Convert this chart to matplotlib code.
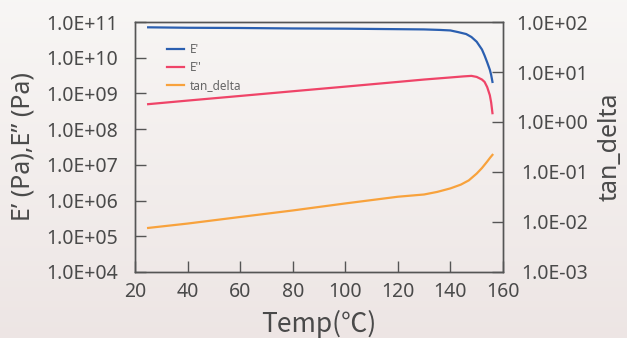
import matplotlib
matplotlib.use("Agg")
import matplotlib.pyplot as plt
from matplotlib.ticker import FuncFormatter, FixedLocator, NullLocator
import numpy as np

plt.rcParams['font.family'] = ['Noto Sans', 'DejaVu Sans']

# Storage modulus E' (Pa) vs temperature
temp_e1 = [25, 40, 60, 80, 100, 120, 130, 136, 140, 143, 146, 148, 150, 152, 153, 154, 155, 155.5, 156]
e_storage = [7.1e10, 6.9e10, 6.8e10, 6.6e10, 6.5e10, 6.3e10, 6.2e10, 6.0e10, 5.8e10, 5.2e10,
             4.6e10, 3.8e10, 2.8e10, 1.7e10, 1.15e10, 7.4e9, 4.6e9, 3.3e9, 2.1e9]

# Loss modulus E'' (Pa)
temp_e2 = [25, 40, 60, 80, 100, 120, 130, 140, 145, 148, 150, 152, 153, 154, 155, 155.5, 156]
e_loss = [5.0e8, 6.3e8, 8.5e8, 1.15e9, 1.55e9, 2.1e9, 2.45e9, 2.8e9, 3.0e9, 3.1e9,
          2.9e9, 2.45e9, 2.1e9, 1.5e9, 8.9e8, 5.6e8, 2.8e8]

# tan_delta
temp_td = [25, 40, 60, 80, 100, 120, 130, 135, 140, 144, 147, 150, 152, 154, 155, 156]
tan_delta = [7.6e-3, 9.3e-3, 1.26e-2, 1.7e-2, 2.35e-2, 3.2e-2, 3.55e-2, 4.0e-2, 4.7e-2,
             5.6e-2, 6.8e-2, 9.3e-2, 0.12, 0.162, 0.19, 0.22]

x_ticks = [20, 40, 60, 80, 100, 120, 140, 160]
left_ticks = [1e4, 1e5, 1e6, 1e7, 1e8, 1e9, 1e10, 1e11]
right_ticks = [1e-3, 1e-2, 1e-1, 1e0, 1e1, 1e2]

c_e1 = '#2b5fb0'
c_e2 = '#ef4468'
c_td = '#f8a23c'
grey = '#555555'
txt = '#4a4a4a'

fig = plt.figure(figsize=(6.27, 3.38), dpi=100)

# background gradient
bg = fig.add_axes([0, 0, 1, 1], zorder=-10)
grad = np.linspace(0, 1, 256).reshape(-1, 1)
top = np.array([0.972, 0.965, 0.960])
bot = np.array([0.930, 0.900, 0.895])
img = top[None, None, :] * (1 - grad[:, :, None]) + bot[None, None, :] * grad[:, :, None]
bg.imshow(img, aspect='auto', extent=[0, 1, 0, 1])
bg.axis('off')

ax = fig.add_axes([0.2153, 0.1953, 0.5869, 0.7396])
ax.patch.set_alpha(0)
ax2 = ax.twinx()

l1, = ax.plot(temp_e1, e_storage, color=c_e1, lw=1.6, label="E'")
l2, = ax.plot(temp_e2, e_loss, color=c_e2, lw=1.6, label="E''")
l3, = ax2.plot(temp_td, tan_delta, color=c_td, lw=1.6, label='tan_delta')

ax.set_yscale('log')
ax2.set_yscale('log')
ax.set_xlim(20, 160)
ax.set_ylim(1e4, 1e11)
ax2.set_ylim(1e-3, 1e2)

fmt = FuncFormatter(lambda v, p: f"{v:.1E}")
ax.yaxis.set_major_locator(FixedLocator(left_ticks))
ax.yaxis.set_minor_locator(NullLocator())
ax.yaxis.set_major_formatter(fmt)
ax2.yaxis.set_major_locator(FixedLocator(right_ticks))
ax2.yaxis.set_minor_locator(NullLocator())
ax2.yaxis.set_major_formatter(fmt)
ax.set_xticks(x_ticks)

for a in (ax, ax2):
    for s in a.spines.values():
        s.set_color(grey)
        s.set_linewidth(1.0)
    a.tick_params(direction='in', length=8, width=1.0, color=grey,
                  labelcolor=txt, labelsize=14)
ax.tick_params(axis='y', pad=12)
ax.tick_params(axis='x', pad=7)
ax2.tick_params(axis='y', pad=61)
for lab in ax2.get_yticklabels():
    lab.set_horizontalalignment('right')

ax.set_xlabel('Temp(℃)', fontsize=19, color=txt, labelpad=6,
              family=['Noto Sans CJK JP', 'DejaVu Sans'])
ax.set_ylabel('E’ (Pa),E” (Pa)', fontsize=18, color=txt, labelpad=8)
ax2.set_ylabel('tan_delta', fontsize=18, color=txt, labelpad=7)

leg = ax.legend(handles=[l1, l2, l3], loc='upper left', bbox_to_anchor=(0.075, 0.935),
                frameon=False, fontsize=8.5, handlelength=1.45, handletextpad=0.45,
                labelspacing=0.42, borderaxespad=0)
for t in leg.get_texts():
    t.set_color('#666666')

fig.savefig('out.png', dpi=100)
